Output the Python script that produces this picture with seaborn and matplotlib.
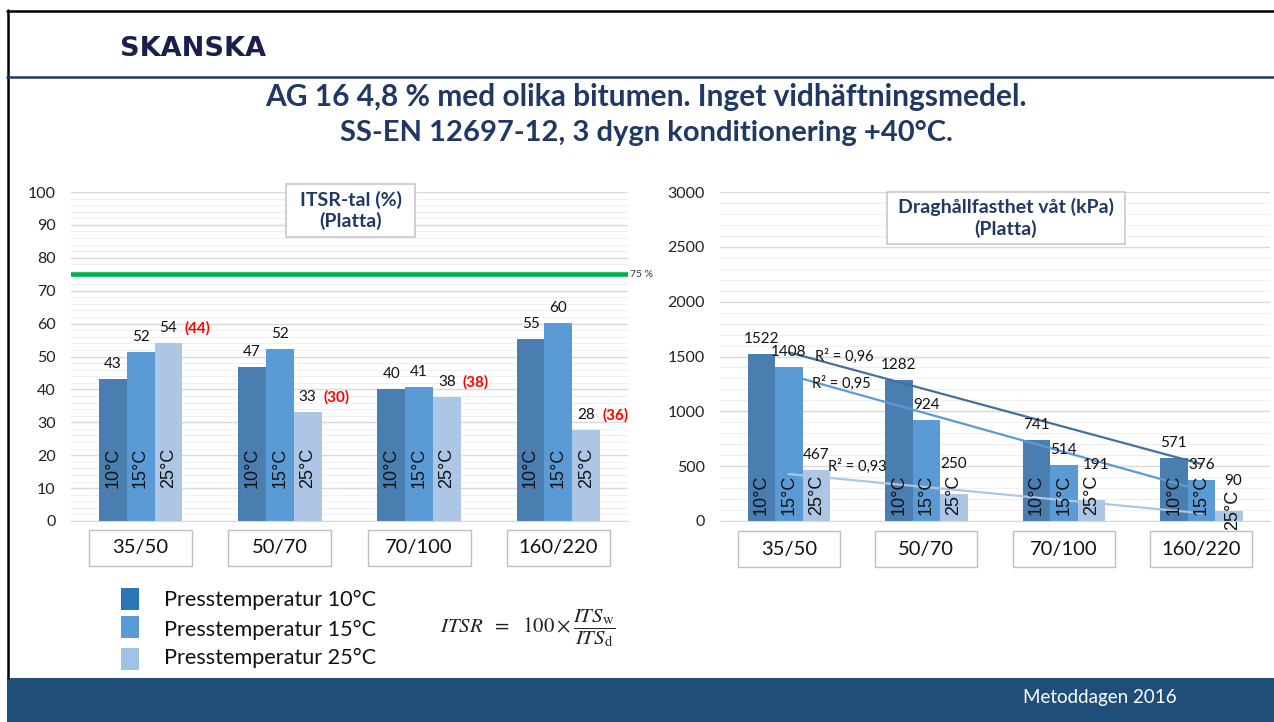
import numpy as np
import pandas as pd
import seaborn as sns
import matplotlib.pyplot as plt
from matplotlib.patches import Rectangle
from matplotlib.lines import Line2D
from matplotlib.ticker import MultipleLocator
from matplotlib.transforms import blended_transform_factory

# data
bitumen = ['35/50', '50/70', '70/100', '160/220']
temps = ['10°C', '15°C', '25°C']
itsr_10 = [43.1, 46.9, 40.0, 55.3]
itsr_15 = [51.5, 52.3, 40.6, 60.2]
itsr_25 = [54.0, 33.0, 37.6, 27.7]
itsr_red = [44, 30, 38, 36]          # red numbers in brackets
itsr_limit = 75
wet_10 = [1522, 1282, 741, 571]
wet_15 = [1408, 924, 514, 376]
wet_25 = [467, 250, 191, 90]
legend_labels = ['Presstemperatur 10°C', 'Presstemperatur 15°C', 'Presstemperatur 25°C']

df = pd.DataFrame({
    'Bitumen': bitumen * 3,
    'Temp': np.repeat(temps, len(bitumen)),
    'ITSR': itsr_10 + itsr_15 + itsr_25,
    'Wet': wet_10 + wet_15 + wet_25,
})

bar_colors = ['#4A7EB1', '#5B9BD5', '#ADC6E5']
legend_colors = ['#2E75B6', '#5B9BD5', '#9DC3E6']
trend_colors = ['#41719C', '#5B9BD5', '#ADC6E5']
navy = '#1F3864'

sns.set_style('white')
plt.rcParams['font.family'] = ['Lato', 'DejaVu Sans']

W, H = 1274, 722
fig = plt.figure(figsize=(W / 100, H / 100), dpi=100)


def fx(x):
    return x / W


def fy(y):
    return 1 - y / H


def px2pt(v):
    return v * 0.72


def setup_axes(ax, ymax, major, minor):
    ax.set_ylim(0, ymax)
    ax.set_xlim(-0.5, len(bitumen) - 0.5)
    ax.yaxis.set_major_locator(MultipleLocator(major))
    ax.yaxis.set_minor_locator(MultipleLocator(minor))
    ax.grid(which='major', axis='y', color='#D9D9D9', lw=1)
    ax.grid(which='minor', axis='y', color='#F0F0F0', lw=0.8)
    ax.set_axisbelow(True)
    for s in ['left', 'right', 'top']:
        ax.spines[s].set_visible(False)
    ax.spines['bottom'].set_color('#D9D9D9')
    ax.tick_params(axis='y', which='both', length=0, labelsize=11.5, pad=11, labelcolor='#222222')
    ax.tick_params(axis='x', length=0)
    ax.set_xticklabels([])
    ax.set_xlabel('')
    ax.set_ylabel('')


def category_boxes(ax, top, bottom):
    tr = blended_transform_factory(ax.transData, fig.transFigure)
    for i, name in enumerate(bitumen):
        fig.add_artist(Rectangle((i - 0.37, fy(bottom)), 0.74, (bottom - top) / H,
                                 transform=tr, facecolor='white', edgecolor='#BFBFBF', lw=1, zorder=5))
        fig.add_artist(plt.Text(i, fy((top + bottom) / 2), name, transform=tr, ha='center',
                                va='center', fontsize=14.5, color='#111111', zorder=6))


def title_box(x0, x1, y0, y1, text):
    fig.add_artist(Rectangle((fx(x0), fy(y1)), (x1 - x0) / W, (y1 - y0) / H,
                             transform=fig.transFigure, facecolor='white', edgecolor='#C8C8C8', lw=1.2, zorder=5))
    fig.text(fx((x0 + x1) / 2), fy((y0 + y1) / 2), text, ha='center', va='center',
             fontsize=14, fontweight='bold', color=navy, linespacing=1.25, zorder=6)


# ---------------- left chart: ITSR ----------------
axL = fig.add_axes([fx(71), fy(521), (628 - 71) / W, (521 - 192) / H])
sns.barplot(data=df, x='Bitumen', y='ITSR', hue='Temp', palette=bar_colors, width=0.6,
            errorbar=None, legend=False, saturation=1, linewidth=0, ax=axL)
setup_axes(axL, 100, 10, 2)
axL.axhline(itsr_limit, color='#00B050', lw=3.3, zorder=3)
axL.text(1.004, itsr_limit, f'{itsr_limit} %', transform=blended_transform_factory(axL.transAxes, axL.transData),
         ha='left', va='center', fontsize=7.5, color='#333333')

for k, cont in enumerate(axL.containers):
    for i, bar in enumerate(cont):
        x = bar.get_x() + bar.get_width() / 2
        h = bar.get_height()
        axL.annotate(f'{h:.0f}', (x, h), xytext=(0, px2pt(15)), textcoords='offset points',
                     ha='center', va='center', fontsize=11, color='#111111')
        axL.annotate(temps[k], (x, 10), ha='center', va='bottom', rotation=90,
                     family='Liberation Sans', fontsize=13, color='#111111')
        if k == 2:
            axL.annotate(f'({itsr_red[i]})', (x, h), xytext=(px2pt(29), px2pt(15)), textcoords='offset points',
                         ha='center', va='center', fontsize=11, fontweight='bold', color='#FF0000')

category_boxes(axL, 530, 566)
title_box(286, 415, 184, 237, 'ITSR-tal (%)\n(Platta)')

# ---------------- right chart: wet tensile strength ----------------
axR = fig.add_axes([fx(720), fy(521), (1270 - 720) / W, (521 - 192) / H])
sns.barplot(data=df, x='Bitumen', y='Wet', hue='Temp', palette=bar_colors, width=0.6,
            errorbar=None, legend=False, saturation=1, linewidth=0, ax=axR)
setup_axes(axR, 3000, 500, 100)

# label nudges (px) where the slide moved labels off their default spot
value_nudge = {(2, 1): (0, 15), (2, 2): (5, 20), (2, 3): (4, 15)}
temp_nudge = {(2, 3): (4, -15)}
for k, cont in enumerate(axR.containers):
    for i, bar in enumerate(cont):
        x = bar.get_x() + bar.get_width() / 2
        h = bar.get_height()
        dx, dy = value_nudge.get((k, i), (0, 0))
        axR.annotate(f'{h:.0f}', (x, h), xytext=(px2pt(dx), px2pt(15 + dy)), textcoords='offset points',
                     ha='center', va='center', fontsize=11, color='#111111', zorder=6)
        tx, ty = temp_nudge.get((k, i), (0, 0))
        axR.annotate(temps[k], (x, 55), xytext=(px2pt(tx), px2pt(ty)), textcoords='offset points',
                     ha='center', va='bottom', rotation=90,
                     family='Liberation Sans', fontsize=13, color='#111111', zorder=6)

# linear trendlines over category positions with R²
xs = np.arange(len(bitumen))
r2_pos = [(0.19, 3), (0.17, -1.5), (0.285, 11)]
for k, series in enumerate([wet_10, wet_15, wet_25]):
    y = np.array(series, dtype=float)
    slope, icpt = np.polyfit(xs, y, 1)
    fit = slope * xs + icpt
    r2 = 1 - np.sum((y - fit) ** 2) / np.sum((y - y.mean()) ** 2)
    axR.plot([xs[0], xs[-1]], [fit[0], fit[-1]], color=trend_colors[k], lw=1.6, zorder=4)
    rx, roff = r2_pos[k]
    axR.annotate(f'R² = {r2:.2f}'.replace('.', ','), (rx, slope * rx + icpt), xytext=(0, px2pt(roff)),
                 textcoords='offset points', ha='left', va='center', fontsize=10.5, color='#111111', zorder=6)

category_boxes(axR, 531, 567)
title_box(887, 1125, 192, 244, 'Draghållfasthet våt (kPa)\n(Platta)')

# ---------------- legend & formula ----------------
sq_tops = [588, 616, 648]
txt_y = [600, 630, 658]
for c, t, ty, lab in zip(legend_colors, sq_tops, txt_y, legend_labels):
    fig.add_artist(Rectangle((fx(121), fy(t + 22)), 18 / W, 22 / H, transform=fig.transFigure,
                             facecolor=c, edgecolor='none'))
    fig.text(fx(164), fy(ty), lab, ha='left', va='center', fontsize=15.6, color='#111111')

fig.text(fx(440), fy(628), r'$ITSR\ \ =\ \ 100\times\dfrac{ITS_{\rm w}}{ITS_{\rm d}}$', ha='left', va='center',
         fontsize=15, math_fontfamily='stix', color='#222222')

# ---------------- slide decoration ----------------
fig.text(fx(646), fy(97), 'AG 16 4,8 % med olika bitumen. Inget vidhäftningsmedel.', ha='center', va='center',
         fontsize=21.5, fontweight='bold', color=navy)
fig.text(fx(646), fy(133), 'SS-EN 12697-12, 3 dygn konditionering +40°C.', ha='center', va='center',
         fontsize=21, fontweight='bold', color=navy)
fig.text(fx(120), fy(49), 'SKANSKA', ha='left', va='center', fontsize=19.5, fontweight='bold',
         family='DejaVu Sans', color='#1B1F4D')

fig.add_artist(Line2D([fx(7), 1], [fy(11), fy(11)], transform=fig.transFigure, color='black', lw=1.8))
fig.add_artist(Line2D([fx(8), fx(8)], [fy(10), fy(678)], transform=fig.transFigure, color='black', lw=1.8))
fig.add_artist(Line2D([fx(7), 1], [fy(77), fy(77)], transform=fig.transFigure, color=navy, lw=1.8))
fig.add_artist(Rectangle((fx(7), 0), 1, 44 / H, transform=fig.transFigure, facecolor='#1F4E79',
                         edgecolor='none'))
fig.text(fx(1100), fy(698), 'Metoddagen 2016', ha='center', va='center', fontsize=13.5, color='white')

fig.savefig('out.png', dpi=100)
